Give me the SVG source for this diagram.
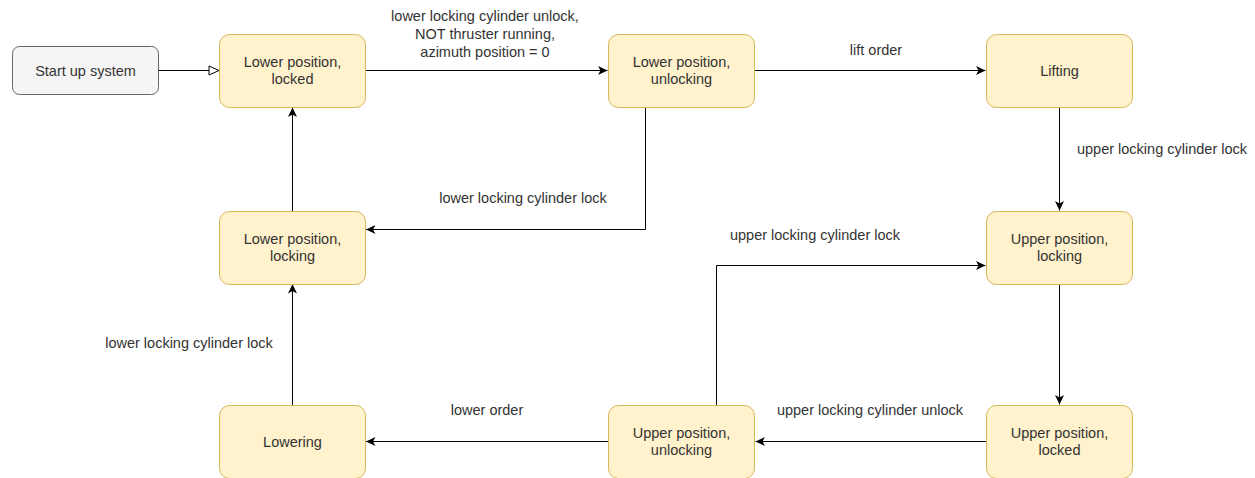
<svg xmlns="http://www.w3.org/2000/svg" width="1255" height="478" viewBox="0 0 1255 478">
<defs>
<style>
.n rect{fill:#fff2cc;stroke:#d6b656;stroke-width:1}
.s rect{fill:#f5f5f5;stroke:#666666;stroke-width:1}
text{font-family:"Liberation Sans",Arial,Helvetica,sans-serif;font-size:14.5px;fill:#333333;text-anchor:middle}
.e path{fill:none;stroke:#000000;stroke-width:1}
</style>
<marker id="a" markerWidth="12" markerHeight="12" refX="10.5" refY="6" orient="auto" markerUnits="userSpaceOnUse">
<path d="M1,1.5 L10.5,6 L1,10.5 L3.5,6 Z" fill="#000"/>
</marker>
<marker id="o" markerWidth="12" markerHeight="12" refX="11" refY="6" orient="auto" markerUnits="userSpaceOnUse">
<path d="M1,1.5 L11,6 L1,10.5 Z" fill="#fff" stroke="#000" stroke-width="1"/>
</marker>
</defs>
<rect width="1255" height="478" fill="#ffffff"/>
<g id="edges" class="e">
<path d="M158.5,70.5 H219" marker-end="url(#o)"/>
<path d="M365.5,70.5 H607.5" marker-end="url(#a)"/>
<path d="M754.5,70.5 H985.5" marker-end="url(#a)"/>
<path d="M1059.5,107 V210.5" marker-end="url(#a)"/>
<path d="M1059.5,284 V404.5" marker-end="url(#a)"/>
<path d="M986,441.5 H755.5" marker-end="url(#a)"/>
<path d="M608,441.5 H366" marker-end="url(#a)"/>
<path d="M716.5,405 V265.5 H985.5" marker-end="url(#a)"/>
<path d="M292.5,405 V284" marker-end="url(#a)"/>
<path d="M292.5,211 V107.5" marker-end="url(#a)"/>
<path d="M645.5,107 V229.5 H366" marker-end="url(#a)"/>
</g>
<g id="labels">
<text x="485" y="21">lower locking cylinder unlock,</text>
<text x="485" y="39">NOT thruster running,</text>
<text x="485" y="57">azimuth position = 0</text>
<text x="876" y="55">lift order</text>
<text x="1162" y="154">upper locking cylinder lock</text>
<text x="523" y="203">lower locking cylinder lock</text>
<text x="815" y="240">upper locking cylinder lock</text>
<text x="189" y="348">lower locking cylinder lock</text>
<text x="487" y="415">lower order</text>
<text x="870" y="415">upper locking cylinder unlock</text>
</g>
<g id="start" class="s"><rect x="12.5" y="46.5" width="146" height="48" rx="7"/><text x="85.5" y="75.5">Start up system</text></g>
<g id="lowerLocked" class="n"><rect x="219.5" y="34.5" width="146" height="73" rx="10"/><text x="292.5" y="67">Lower position,</text><text x="292.5" y="84">locked</text></g>
<g id="lowerUnlocking" class="n"><rect x="608.5" y="34.5" width="146" height="73" rx="10"/><text x="681.5" y="67">Lower position,</text><text x="681.5" y="84">unlocking</text></g>
<g id="lifting" class="n"><rect x="986.5" y="34.5" width="146" height="73" rx="10"/><text x="1059.5" y="75.5">Lifting</text></g>
<g id="lowerLocking" class="n"><rect x="219.5" y="211.5" width="146" height="73" rx="10"/><text x="292.5" y="244">Lower position,</text><text x="292.5" y="261">locking</text></g>
<g id="upperLocking" class="n"><rect x="986.5" y="211.5" width="146" height="73" rx="10"/><text x="1059.5" y="244">Upper position,</text><text x="1059.5" y="261">locking</text></g>
<g id="lowering" class="n"><rect x="219.5" y="405.5" width="146" height="73" rx="10"/><text x="292.5" y="446.5">Lowering</text></g>
<g id="upperUnlocking" class="n"><rect x="608.5" y="405.5" width="146" height="73" rx="10"/><text x="681.5" y="438">Upper position,</text><text x="681.5" y="455">unlocking</text></g>
<g id="upperLocked" class="n"><rect x="986.5" y="405.5" width="146" height="73" rx="10"/><text x="1059.5" y="438">Upper position,</text><text x="1059.5" y="455">locked</text></g>
</svg>
